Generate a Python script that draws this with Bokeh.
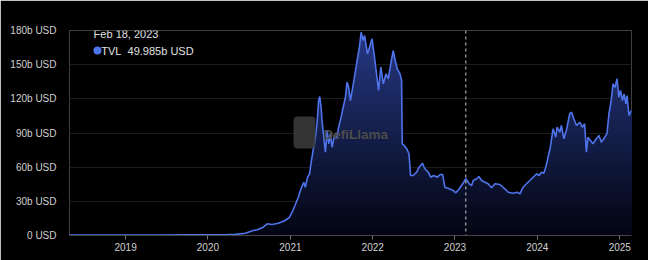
import numpy as np
import pandas as pd
from bokeh.plotting import figure
from bokeh.models import FixedTicker, Span, Label, Range1d
from bokeh.embed import file_html
from bokeh.resources import INLINE

# ---- data (TVL in billions USD) ----
dates = [
    "2018-04-27", "2018-09-01", "2019-01-01", "2019-06-01", "2019-10-01", "2020-01-01",
    "2020-03-15", "2020-05-01", "2020-06-15", "2020-07-20", "2020-08-07", "2020-09-02",
    "2020-09-20", "2020-10-12", "2020-11-08", "2020-12-04", "2020-12-27", "2021-01-10",
    "2021-01-23", "2021-02-05", "2021-02-17", "2021-03-01", "2021-03-08", "2021-03-18",
    "2021-03-27", "2021-04-02", "2021-04-14", "2021-04-22", "2021-04-29", "2021-05-06",
    "2021-05-11", "2021-05-17", "2021-05-21", "2021-05-29", "2021-06-05", "2021-06-13",
    "2021-06-20", "2021-06-27", "2021-07-05", "2021-07-15", "2021-07-24", "2021-08-03",
    "2021-08-14", "2021-08-23", "2021-09-02", "2021-09-09", "2021-09-16", "2021-09-24",
    "2021-10-02", "2021-10-12", "2021-10-24", "2021-11-03", "2021-11-11", "2021-11-19",
    "2021-11-26", "2021-12-03", "2021-12-09", "2021-12-18", "2021-12-29", "2022-01-07",
    "2022-01-16", "2022-01-27", "2022-02-06", "2022-02-17", "2022-03-01", "2022-03-11",
    "2022-03-22", "2022-04-02", "2022-04-11", "2022-04-20", "2022-05-02", "2022-05-09",
    "2022-05-12", "2022-05-21", "2022-06-01", "2022-06-11", "2022-06-18", "2022-06-30",
    "2022-07-15", "2022-07-26", "2022-08-10", "2022-08-20", "2022-09-04", "2022-09-15",
    "2022-09-29", "2022-10-14", "2022-10-29", "2022-11-07", "2022-11-17", "2022-12-06",
    "2022-12-24", "2023-01-05", "2023-01-20", "2023-02-04", "2023-02-18", "2023-03-05",
    "2023-03-16", "2023-03-23", "2023-04-07", "2023-04-17", "2023-04-29", "2023-05-14",
    "2023-05-28", "2023-06-12", "2023-06-27", "2023-07-19", "2023-08-10", "2023-08-25",
    "2023-09-16", "2023-10-04", "2023-10-16", "2023-10-30", "2023-11-14", "2023-11-29",
    "2023-12-14", "2023-12-29", "2024-01-09", "2024-01-20", "2024-01-30", "2024-02-08",
    "2024-02-18", "2024-02-28", "2024-03-11", "2024-03-23", "2024-03-29", "2024-04-10",
    "2024-04-17", "2024-04-28", "2024-05-09", "2024-05-24", "2024-06-01", "2024-06-11",
    "2024-06-23", "2024-07-07", "2024-07-19", "2024-07-29", "2024-08-06", "2024-08-13",
    "2024-08-24", "2024-09-04", "2024-09-19", "2024-10-01", "2024-10-11", "2024-10-26",
    "2024-11-05", "2024-11-14", "2024-11-25", "2024-12-02", "2024-12-11", "2024-12-20",
    "2024-12-28", "2025-01-04", "2025-01-13", "2025-01-20", "2025-01-28", "2025-02-02",
    "2025-02-11", "2025-02-22",
]
tvl = [
    0.3, 0.4, 0.3, 0.5, 0.6, 0.7,
    0.6, 1.0, 2.0, 4.4, 5.0, 7.3,
    10.3, 9.7, 10.8, 12.7, 15.8, 21.1,
    27.2, 33.6, 41.0, 46.8, 42.4, 51.2,
    54.2, 63.0, 77.5, 86.3, 98.1, 118.5,
    122.0, 112.6, 101.0, 86.3, 73.1, 92.2,
    80.5, 89.3, 77.5, 87.8, 84.9, 95.1,
    103.9, 112.6, 121.4, 134.6, 130.2, 118.5,
    127.3, 139.0, 153.7, 165.3, 178.5, 171.2,
    175.6, 166.8, 159.5, 165.3, 172.7, 159.5,
    144.9, 127.3, 147.8, 133.2, 142.0, 137.6,
    150.8, 162.4, 153.7, 146.4, 142.0, 136.1,
    80.5, 79.0, 76.1, 71.7, 52.7, 52.7,
    55.6, 60.0, 63.5, 58.6, 55.6, 51.2,
    52.7, 51.2, 53.6, 53.6, 42.4, 41.0,
    39.5, 37.5, 41.0, 45.4, 49.985, 45.4,
    43.9, 48.3, 49.8, 51.8, 48.3, 46.8,
    45.4, 41.9, 45.4, 44.8, 41.0, 38.0,
    37.1, 38.0, 36.6, 42.4, 45.4, 48.3,
    51.2, 54.2, 52.7, 55.6, 54.7, 60.0,
    68.7, 77.5, 93.7, 86.3, 95.1, 90.7,
    96.6, 84.9, 92.2, 106.9, 108.3, 102.5,
    96.6, 99.5, 95.1, 98.1, 73.1, 86.3,
    83.4, 80.5, 84.9, 87.8, 81.9, 86.3,
    89.3, 106.9, 120.0, 133.2, 130.2, 137.6,
    121.4, 127.3, 118.5, 124.4, 115.6, 122.9,
    105.4, 109.8,
]
y_ticks = [0, 30, 60, 90, 120, 150, 180]
y_tick_labels = ["0 USD", "30b USD", "60b USD", "90b USD", "120b USD", "150b USD", "180b USD"]
x_tick_years = [2019, 2020, 2021, 2022, 2023, 2024, 2025]
hover_date = "2023-02-18"
hover_date_label = "Feb 18, 2023"
hover_series = "TVL"
hover_value_label = "49.985b USD"

# ---- build ----
x = pd.to_datetime(dates)
v = np.array(tvl)
y_max = 180

p = figure(width=648, height=260, x_axis_type="datetime",
           output_backend="svg", toolbar_location=None,
           x_range=Range1d(x[0], x[-1]), y_range=Range1d(0, y_max),
           min_border_left=69, min_border_right=17, min_border_top=30, min_border_bottom=25)
p.background_fill_color = "#000000"
p.border_fill_color = "#000000"
p.outline_line_color = None
p.outline_line_alpha = 0
p.outline_line_width = 0

# gradient fill emulated by stacked areas (top colours first, overwritten by lower ones)
top_c = np.array([38, 56, 132])
bot_c = np.array([3, 5, 16])
levels = np.linspace(0, y_max, 46)[1:]
for hi in levels[::-1]:
    t = hi / y_max
    c = (bot_c + (top_c - bot_c) * t).astype(int)
    p.varea(x=x, y1=0, y2=np.minimum(v, hi), fill_color="#%02x%02x%02x" % tuple(c))

p.line(x, v, line_color="#4f73ea", line_width=1.6)

# hover marker
hx = pd.Timestamp(hover_date)
p.add_layout(Span(location=hx, dimension="height", line_color="#cccccc",
                  line_dash="3 3", line_width=1))

# axes
p.yaxis.ticker = FixedTicker(ticks=y_ticks)
p.yaxis.major_label_overrides = {t: l for t, l in zip(y_ticks, y_tick_labels)}
p.yaxis.axis_line_color = None
p.yaxis.major_tick_line_color = None
p.yaxis.minor_tick_line_color = None
p.yaxis.major_label_standoff = 7
p.yaxis.major_label_text_color = "#d0d0d0"
p.yaxis.major_label_text_font = "Liberation Sans"
p.yaxis.major_label_text_font_size = "10px"

p.xaxis.ticker = FixedTicker(ticks=[pd.Timestamp(f"{yr}-01-01").value / 1e6 for yr in x_tick_years])
p.xaxis.formatter.years = "%Y"
p.xaxis.formatter.months = "%Y"
p.xaxis.formatter.days = "%Y"
p.xaxis.axis_line_color = "#444444"
p.xaxis.major_tick_line_color = "#777777"
p.xaxis.major_tick_out = 4
p.xaxis.major_tick_in = 0
p.xaxis.minor_tick_line_color = None
p.xaxis.major_label_standoff = 3
p.xaxis.major_label_text_color = "#d0d0d0"
p.xaxis.major_label_text_font = "Liberation Sans"
p.xaxis.major_label_text_font_size = "10px"

p.xgrid.grid_line_color = None
p.ygrid.grid_line_color = "#1c1c1c"
p.ygrid.grid_line_width = 1

# watermark (screen units are relative to the frame's bottom-left corner)
p.add_layout(Label(x=224, y=87, x_units="screen", y_units="screen", text="\u00a0\u00a0",
                   text_font_size="18px", background_fill_color="#3c3c3c",
                   background_fill_alpha=0.85, padding=6, border_radius=4))
p.add_layout(Label(x=254, y=101, x_units="screen", y_units="screen", text="DefiLlama",
                   text_color="#4c4c4c", text_font="Liberation Sans", text_baseline="middle",
                   text_font_style="bold", text_font_size="13.5px"))

# faint strip at the top edge (part of the page chrome above the chart)
p.add_layout(Label(x=306, y=233, x_units="screen", y_units="screen",
                   text="\u00a0" * 92, text_font_size="1px", text_line_height=1,
                   background_fill_color="#1e2236", padding=(0, 0, 0, 0)))

# tooltip texts
tip_x = pd.Timestamp("2018-08-12")
p.add_layout(Label(x=tip_x, y=(235 - 33) * y_max / 205, text=hover_date_label,
                   text_color="#e0e0e0", text_font="Liberation Sans",
                   text_font_size="11px", text_baseline="middle"))
p.scatter(x=[pd.Timestamp("2018-08-29")], y=[(235 - 50) * y_max / 205], size=8,
          fill_color="#4f73ea", line_color=None)
p.add_layout(Label(x=pd.Timestamp("2018-09-15"), y=(235 - 50) * y_max / 205,
                   text=f"{hover_series}\u00a0\u00a0{hover_value_label}",
                   text_color="#e0e0e0", text_font="Liberation Sans",
                   text_font_size="11px", text_baseline="middle"))

open("out.html", "w").write(file_html(p, INLINE))
